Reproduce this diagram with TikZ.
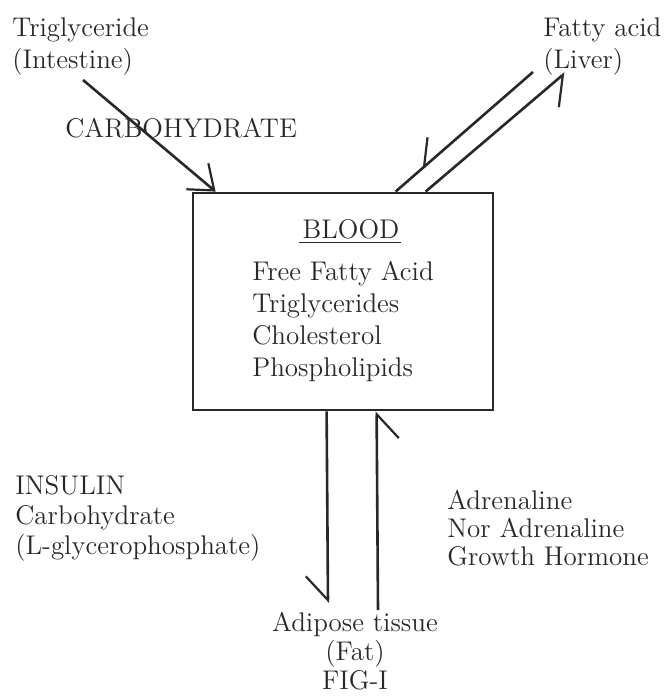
\documentclass[tikz,border=0pt]{standalone}
\usepackage{xcolor}
\usepackage{tikz}
\usetikzlibrary{arrows.meta, positioning, calc, decorations.markings}
\definecolor{inkgray}{RGB}{40,40,40}
\tikzset{
  line/.style={draw=inkgray, line width=1.3pt},
  arrow/.style={line, -{Straight Barb[length=11pt, width=17pt, line width=1.1pt]}},
  halfarrow/.style={line, -{Straight Barb[right, length=12pt, width=22pt, line width=1.1pt]}},
  midbarb/.style={postaction={decorate}, decoration={markings, mark=at position #1 with {\arrow[line width=1.1pt]{Straight Barb[right, length=11pt, width=20pt]}}}},
  label/.style={text=inkgray, inner sep=0pt, font=\fontsize{13.5}{16}\selectfont},
  box/.style={draw=inkgray, line width=1.4pt, rectangle, minimum width=150pt, minimum height=108.5pt, inner sep=0pt, text=inkgray, font=\fontsize{13.5}{16}\selectfont}
}

\begin{document}
\begin{tikzpicture}[x=0.5pt, y=-0.5pt]
  \useasboundingbox (0,0) rectangle (664,700);

  % Blood pool
  \node[box] (blood) at (343,301.5) {\begin{tabular}{@{}l@{}}
      \multicolumn{1}{c}{\hspace{7pt}\underline{\kern2pt BLOOD\kern1pt}}\\[5pt]
      Free Fatty Acid\\ Triglycerides\\ Cholesterol\\ Phospholipids
    \end{tabular}};

  % Sources and sinks
  \node[label, anchor=west, align=left] (trig) at (12,47) {Triglyceride\\(Intestine)};
  \node[label, anchor=west, align=left] (liver) at (543,47) {Fatty acid\\(Liver)};
  \node[label, anchor=west] (carb) at (65,128) {CARBOHYDRATE};
  \node[label, anchor=west, align=left, font=\fontsize{13.5}{15}\selectfont] (insulin) at (15,518) {INSULIN\\Carbohydrate\\(L-glycerophosphate)};
  \node[label, anchor=west, align=left, font=\fontsize{13.5}{14}\selectfont] (adren) at (447,528) {Adrenaline\\Nor Adrenaline\\Growth Hormone};
  \node[label, align=center, font=\fontsize{13.5}{14.5}\selectfont] (adipose) at (355,651) {Adipose tissue\\(Fat)\\FIG-I};

  % Free ends of the flows
  \coordinate (intestine) at (83,80);
  \coordinate (liverin) at (533,72);
  \coordinate (liverout) at (565,73);
  \coordinate (fatin) at (328,603);
  \coordinate (fatout) at (378,610);

  % Flows
  \draw[arrow] (intestine) -- ([xshift=12pt]blood.north west);
  \draw[line, midbarb=0.81] (liverin) -- ([xshift=102pt]blood.north west);
  \draw[halfarrow] ([xshift=117pt]blood.north west) -- (liverout);
  \draw[halfarrow] ([xshift=67.5pt]blood.south west) -- (fatin);
  \draw[halfarrow] (fatout) -- ([xshift=92.5pt]blood.south west);
\end{tikzpicture}
\end{document}
